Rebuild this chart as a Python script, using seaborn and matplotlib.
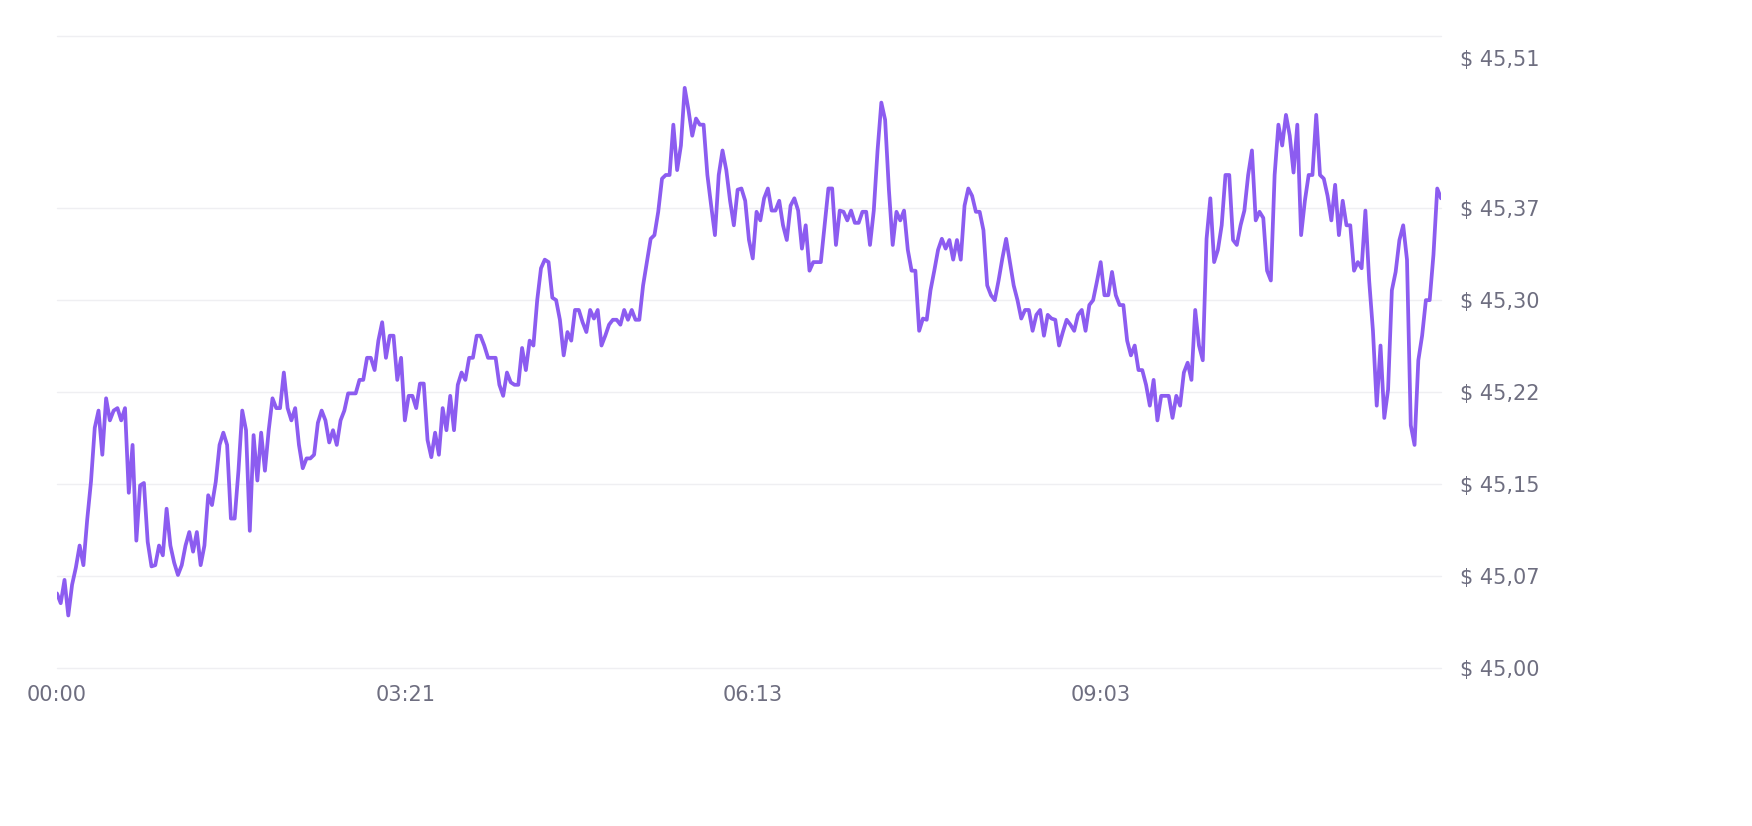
import numpy as np
import pandas as pd
import seaborn as sns
import matplotlib.pyplot as plt

# price minus 45.00 left to right
price_above_45 = [
    .061, .053, .072, .043, .068, .082, .100, .084, .121, .152, .196, .210, .174, .220, .202, .210, .212, .202, .212, .143,
    .182, .104, .149, .151, .103, .083, .084, .100, .092, .130, .100, .086, .076, .084, .100, .111, .095, .111, .084, .100,
    .141, .133, .152, .182, .192, .182, .122, .122, .161, .210, .194, .112, .190, .153, .192, .161, .194, .220, .212, .212,
    .241, .212, .202, .212, .182, .163, .171, .171, .174, .200, .210, .202, .184, .194, .182, .202, .210, .224, .224, .224,
    .235, .235, .253, .253, .243, .267, .282, .253, .271, .271, .235, .253, .202, .222, .222, .212, .232, .232, .186, .172,
    .192, .174, .212, .194, .222, .194, .231, .241, .235, .253, .253, .271, .271, .263, .253, .253, .253, .231, .222, .241,
    .233, .231, .231, .261, .243, .267, .263, .300, .326, .333, .331, .302, .300, .284, .255, .274, .267, .292, .292, .282,
    .274, .292, .285, .292, .263, .271, .280, .284, .284, .280, .292, .284, .292, .284, .284, .312, .331, .350, .353, .372,
    .399, .402, .402, .443, .406, .426, .473, .455, .434, .448, .443, .443, .402, .377, .353, .402, .422, .406, .381, .361,
    .390, .391, .381, .349, .334, .372, .365, .383, .391, .373, .373, .381, .361, .349, .377, .383, .373, .342, .361, .324,
    .331, .331, .331, .361, .391, .391, .345, .373, .372, .365, .373, .363, .363, .372, .372, .345, .373, .422, .461, .447,
    .390, .345, .372, .365, .373, .341, .324, .324, .275, .285, .284, .308, .324, .341, .350, .342, .349, .333, .349, .333,
    .377, .391, .385, .372, .372, .357, .312, .304, .300, .316, .334, .350, .331, .312, .300, .285, .292, .292, .275, .288,
    .292, .271, .288, .285, .284, .263, .274, .284, .280, .275, .288, .292, .275, .296, .300, .315, .331, .304, .304, .323,
    .304, .296, .296, .267, .255, .263, .243, .243, .231, .214, .235, .202, .222, .222, .222, .204, .222, .214, .241, .249,
    .235, .292, .263, .251, .350, .383, .331, .341, .361, .402, .402, .349, .345, .361, .373, .402, .422, .365, .372, .367,
    .324, .316, .402, .443, .426, .451, .434, .404, .443, .353, .381, .402, .402, .451, .402, .399, .385, .365, .394, .353,
    .381, .361, .361, .324, .331, .326, .373, .316, .275, .214, .263, .204, .227, .308, .323, .349, .361, .333, .198, .182,
    .251, .271, .300, .300, .337, .391, .383,
]
x_tick_labels = ["00:00", "03:21", "06:13", "09:03"]
y_tick_values = [45.00, 45.075, 45.15, 45.225, 45.30, 45.375, 45.497]
y_tick_labels = ["$ 45,00", "$ 45,07", "$ 45,15", "$ 45,22", "$ 45,30", "$ 45,37", "$ 45,51"]

df = pd.DataFrame({"step": np.arange(len(price_above_45)),
                   "price": 45 + np.array(price_above_45)})
n = len(df)

sns.set_style("white")
fig = plt.figure(figsize=(17.52, 8.26), dpi=100)
ax = fig.add_axes([0.0325, 0.191, 0.790, 0.765])

# light gridlines (the top label has no gridline of its own)
for yv in y_tick_values[:-1] + [45.515]:
    ax.axhline(yv, color="#efeff2", lw=1, zorder=0, clip_on=False)

sns.lineplot(data=df, x="step", y="price", ax=ax, color="#8c5cf0", lw=2.7)

ax.set_xlim(0, n - 1)
ax.set_ylim(45.0, 45.515)
ax.set_xticks([0, 0.252 * (n - 1), 0.503 * (n - 1), 0.754 * (n - 1)])
ax.set_xticklabels(x_tick_labels)
ax.set_yticks(y_tick_values)
ax.set_yticklabels(y_tick_labels)
ax.yaxis.tick_right()
ax.tick_params(length=0, labelsize=15, colors="#6e6e80", pad=12)
ax.tick_params(axis="y", pad=14)
ax.set_xlabel("")
ax.set_ylabel("")
for s in ax.spines.values():
    s.set_visible(False)

fig.savefig("out.png", dpi=100, facecolor="white")
